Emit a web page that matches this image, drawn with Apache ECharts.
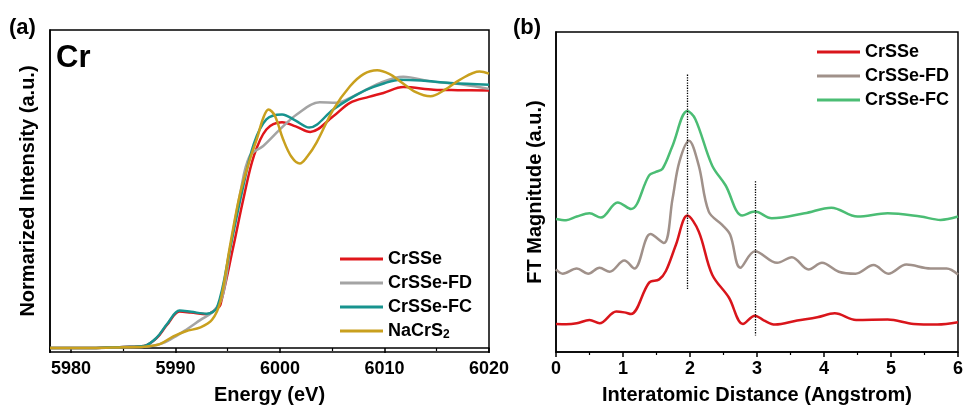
<!DOCTYPE html>
<html><head><meta charset="utf-8">
<script src="https://cdn.jsdelivr.net/npm/echarts@6/dist/echarts.min.js"></script>
<style>html,body{margin:0;padding:0;background:#fff}#c{width:966px;height:410px}</style>
</head><body><div id="c"></div>
<script>
// ---- Panel (a): Cr K-edge XANES ----
const crsseE  = [5978,5982,5985,5987,5988.2,5989.2,5990.4,5991.5,5993,5994,5994.3,5995.5,5996.5,5997.5,5998.7,6000.2,6001.5,6002.9,6005.1,6006.7,6008.5,6009.9,6011.8,6014.7,6017,6020];
const crsseMu = [0,0,0.004,0.008,0.038,0.09,0.141,0.137,0.131,0.154,0.167,0.385,0.577,0.743,0.846,0.874,0.858,0.836,0.897,0.949,0.972,0.987,1.01,1.0,0.998,0.997];
const fdE  = [5978,5982,5985,5987,5988.5,5989.8,5991,5992.4,5993.6,5994.5,5995.3,5996.2,5997.1,5998.4,6000,6001.6,6003.8,6005.4,6007,6009.6,6011.8,6014.4,6017.6,6020];
const fdMu = [0,0,0.003,0.005,0.015,0.04,0.07,0.109,0.141,0.2,0.4,0.6,0.743,0.782,0.846,0.904,0.951,0.949,0.974,1.026,1.05,1.032,1.019,1.003];
const fcE  = [5978,5982,5985,5987,5988.2,5989.2,5990.4,5991.5,5993,5994,5995.3,5996.4,5997.5,5998.7,6000.2,6001.5,6002.8,6005.1,6006.7,6008.3,6010,6011.5,6013.5,6016.3,6020];
const fcMu = [0,0,0.004,0.008,0.04,0.093,0.145,0.14,0.133,0.158,0.40,0.61,0.79,0.885,0.904,0.88,0.853,0.923,0.965,1.0,1.025,1.038,1.035,1.026,1.019];
const nacrsE  = [5978,5982,5985,5987,5988.5,5989.8,5991,5992.4,5993.5,5994.3,5995.2,5996.2,5997.2,5997.8,5998.4,5998.9,5999.5,6000.3,6001.1,6001.9,6002.6,6003.5,6005.1,6006.7,6008,6009.3,6010.5,6011.5,6013,6014.4,6015.8,6017.2,6019.1,6020];
const nacrsMu = [0,0,0.003,0.005,0.015,0.045,0.065,0.08,0.109,0.18,0.39,0.6,0.74,0.81,0.89,0.923,0.9,0.808,0.74,0.714,0.74,0.795,0.923,1.013,1.06,1.075,1.06,1.032,0.99,0.974,1.0,1.038,1.07,1.062];

// ---- Panel (b): FT magnitude (offset curves) ----
const rRed = [0,0.15,0.31,0.5,0.65,0.9,1.02,1.12,1.39,1.54,1.64,1.79,1.96,2.13,2.33,2.58,2.79,2.97,3.1,3.27,3.6,3.9,4.16,4.48,4.95,5.34,5.69,6];
const vRed = [0.283,0.28,0.29,0.323,0.29,0.41,0.40,0.383,0.70,0.733,0.817,1.083,1.377,1.217,0.783,0.55,0.283,0.367,0.32,0.277,0.317,0.35,0.39,0.323,0.327,0.283,0.277,0.3];
const rFD = [0,0.1,0.31,0.48,0.65,0.8,1.02,1.17,1.41,1.61,1.74,1.84,1.985,2.13,2.28,2.48,2.6,2.75,2.97,3.3,3.52,3.77,3.97,4.22,4.47,4.74,4.96,5.23,5.59,5.83,6];
const vFD = [0.833,0.79,0.843,0.79,0.85,0.81,0.923,0.843,1.19,1.10,1.55,1.917,2.133,1.883,1.417,1.283,1.183,0.85,1.017,0.9,0.957,0.833,0.9,0.81,0.79,0.877,0.79,0.883,0.843,0.843,0.783];
const rFC = [0,0.15,0.31,0.5,0.67,0.92,1.12,1.39,1.49,1.59,1.74,1.96,2.08,2.33,2.53,2.78,2.97,3.22,3.71,4.11,4.5,4.95,5.44,5.74,6];
const vFC = [1.343,1.33,1.367,1.40,1.357,1.51,1.443,1.783,1.817,1.85,2.083,2.433,2.35,1.883,1.683,1.377,1.417,1.35,1.40,1.457,1.367,1.40,1.367,1.333,1.367];
const guideLines = [[1.96,2.8,0.633],[2.97,1.723,0.167]];

const energyTicks = [5980,5990,6000,6010,6020];
const rTicks = [0,1,2,3,4,5,6];

const F = "'Liberation Sans', Arial, sans-serif";
const zip = (a,b)=>a.map((x,i)=>[x,b[i]]);

const chart = echarts.init(document.getElementById('c'), null, {renderer:'canvas'});
const axisLineStyle = {lineStyle:{color:'#000', width:1.5}};
const labelStyle = {color:'#000', fontFamily:F, fontWeight:'bold', fontSize:18, margin:8};
const nameStyle = {color:'#000', fontFamily:F, fontWeight:'bold', fontSize:20};

function lineSeries(name, data, color, xi){
  return {name, type:'line', data, xAxisIndex:xi, yAxisIndex:xi, showSymbol:false, symbol:'none',
          smooth:0.35, lineStyle:{color, width:2.5}, itemStyle:{color}, z:2, silent:true};
}

const series = [
  lineSeries('CrSSe', zip(crsseE, crsseMu), '#e0161b', 0),
  lineSeries('CrSSe-FD', zip(fdE, fdMu), '#a4a4a4', 0),
  lineSeries('CrSSe-FC', zip(fcE, fcMu), '#17938e', 0),
  lineSeries('NaCrS2', zip(nacrsE, nacrsMu), '#c9a01e', 0),
  lineSeries('CrSSe ', zip(rRed, vRed), '#d9151b', 1),
  lineSeries('CrSSe-FD ', zip(rFD, vFD), '#a0918a', 1),
  lineSeries('CrSSe-FC ', zip(rFC, vFC), '#4bbd74', 1)
];
series[4].markLine = {silent:true, symbol:'none', label:{show:false},
  lineStyle:{color:'#000', type:'dotted', width:1.3},
  data: guideLines.map(g=>[{coord:[g[0],g[1]]},{coord:[g[0],g[2]]}])};

const legendText = {color:'#000', fontFamily:F, fontWeight:'bold', fontSize:18, lineHeight:20};
const option = {
  animation:false,
  backgroundColor:'#fff',
  grid:[
    {left:50, top:30, width:439, height:324, show:true, borderColor:'#000', borderWidth:1.5, backgroundColor:'transparent'},
    {left:556, top:32, width:405, height:323, show:true, borderColor:'#000', borderWidth:1.5, backgroundColor:'transparent'}
  ],
  xAxis:[
    {type:'value', gridIndex:0, min:5978, max:6020, name:'Energy (eV)', nameLocation:'middle', nameGap:33, nameTextStyle:nameStyle,
     axisLine:axisLineStyle, axisTick:{show:true, length:5, lineStyle:{color:'#000', width:1.5}},
     minorTick:{show:true, splitNumber:2, length:3, lineStyle:{color:'#000', width:1.2}},
     axisLabel:Object.assign({}, labelStyle, {showMinLabel:false, formatter:v=>energyTicks.includes(v)?String(v):''}),
     splitLine:{show:false}},
    {type:'value', gridIndex:1, min:0, max:6, interval:1, name:'Interatomic Distance (Angstrom)', nameLocation:'middle', nameGap:33, nameTextStyle:nameStyle,
     axisLine:axisLineStyle, axisTick:{show:true, length:5, lineStyle:{color:'#000', width:1.5}},
     minorTick:{show:true, splitNumber:2, length:3, lineStyle:{color:'#000', width:1.2}},
     axisLabel:Object.assign({}, labelStyle, {formatter:v=>rTicks.includes(v)?String(v):''}),
     splitLine:{show:false}}
  ],
  yAxis:[
    {type:'value', gridIndex:0, min:-0.0154, max:1.2308, name:'Normarized Intensity (a.u.)', nameLocation:'middle', nameGap:12, nameTextStyle:nameStyle,
     axisLine:axisLineStyle, axisTick:{show:false}, axisLabel:{show:false}, splitLine:{show:false}},
    {type:'value', gridIndex:1, min:0, max:3.23, name:'FT Magnitude (a.u.)', nameLocation:'middle', nameGap:11, nameTextStyle:nameStyle,
     axisLine:axisLineStyle, axisTick:{show:false}, axisLabel:{show:false}, splitLine:{show:false}}
  ],
  legend:[
    {data:['CrSSe','CrSSe-FD','CrSSe-FC','NaCrS2'], orient:'vertical', left:340, top:249, padding:0, icon:'rect', itemWidth:43, itemHeight:3, itemGap:4,
     textStyle:Object.assign({}, legendText, {
       rich:{b:Object.assign({}, legendText), sub:{color:'#000', fontFamily:F, fontWeight:'bold', fontSize:12, lineHeight:11, verticalAlign:'bottom'}}}),
     formatter:n=> n==='NaCrS2' ? '{b|NaCrS}{sub|2}' : n, selectedMode:false},
    {data:['CrSSe ','CrSSe-FD ','CrSSe-FC '], orient:'vertical', left:817, top:42, padding:0, icon:'rect', itemWidth:43, itemHeight:3, itemGap:4,
     textStyle:legendText, formatter:n=>n.trim(), selectedMode:false}
  ],
  graphic:[
    {type:'text', left:9, top:17, style:{text:'(a)', fill:'#000', font:"bold 22px "+F}},
    {type:'text', left:56, top:43, style:{text:'Cr', fill:'#000', font:"bold 31px "+F}},
    {type:'text', left:513, top:17, style:{text:'(b)', fill:'#000', font:"bold 22px "+F}}
  ],
  series
};
chart.setOption(option);
</script></body></html>
